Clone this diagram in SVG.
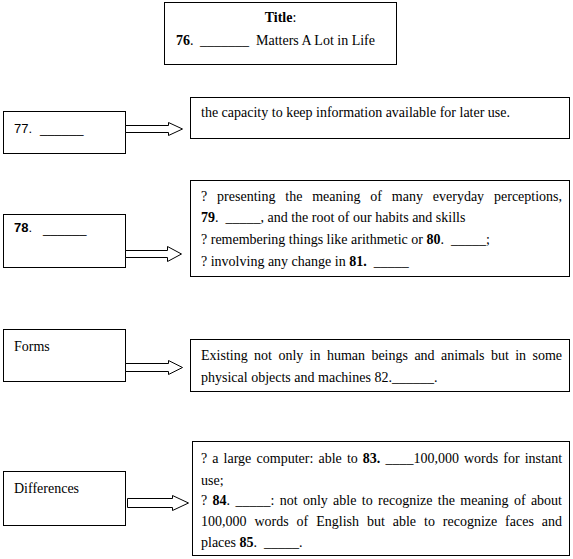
<svg xmlns="http://www.w3.org/2000/svg" width="573" height="559" viewBox="0 0 573 559">
<style>
.box{fill:#fff;stroke:#000;stroke-width:1}
.arr{fill:#fff;stroke:#000;stroke-width:1;stroke-linejoin:miter}
.s{font-family:"Liberation Serif","Times New Roman",serif;font-size:14px;fill:#000}
.a{font-family:"Liberation Sans",Arial,sans-serif;font-size:13px;fill:#000}
.b{font-weight:bold}
</style>
<rect width="573" height="559" fill="#fff"/>
<g id="title">
<rect class="box" x="164.5" y="2.5" width="232" height="62"/>
<text class="s" x="280.5" y="22" text-anchor="middle"><tspan class="b">Title</tspan>:</text>
<text class="s" y="45"><tspan x="176" class="b">76</tspan>.<tspan x="200">_______</tspan><tspan x="256">Matters A Lot in Life</tspan></text>
</g>
<g id="n77">
<rect class="box" x="3.5" y="111.5" width="122" height="42"/>
<text class="a" y="132.5"><tspan x="14">77.</tspan><tspan x="40">______</tspan></text>
</g>
<g id="r77">
<rect class="box" x="190.5" y="97.5" width="379" height="41"/>
<text class="s" x="201" y="117">the capacity to keep information available for later use.</text>
</g>
<g id="n78">
<rect class="box" x="3.5" y="214.5" width="122" height="53"/>
<text class="a" y="232"><tspan x="14" class="b">78</tspan>.<tspan x="43" dy="1">______</tspan></text>
</g>
<g id="r78">
<rect class="box" x="190.5" y="180.5" width="379" height="96"/>
<text class="s" y="201"><tspan x="201">?</tspan><tspan x="217.1">presenting</tspan><tspan x="285.3">the</tspan><tspan x="312.2">meaning</tspan><tspan x="370.3">of</tspan><tspan x="391.8">many</tspan><tspan x="432.8">everyday</tspan><tspan x="494">perceptions,</tspan></text>
<text class="s" x="201" y="222" xml:space="preserve"><tspan class="b">79</tspan>.  _____, and the root of our habits and skills</text>
<text class="s" x="201" y="244" xml:space="preserve">? remembering things like arithmetic or <tspan class="b">80</tspan>.  _____;</text>
<text class="s" x="201" y="266" xml:space="preserve">? involving any change in <tspan class="b">81.</tspan>  _____</text>
</g>
<g id="nForms">
<rect class="box" x="3.5" y="329.5" width="122" height="52"/>
<text class="s" x="14" y="351">Forms</text>
</g>
<g id="rForms">
<rect class="box" x="190.5" y="339.5" width="379" height="52"/>
<text class="s" y="360"><tspan x="201">Existing</tspan><tspan x="254.1">not</tspan><tspan x="278.4">only</tspan><tspan x="309.6">in</tspan><tspan x="326.9">human</tspan><tspan x="371.4">beings</tspan><tspan x="414.4">and</tspan><tspan x="441">animals</tspan><tspan x="490.9">but</tspan><tspan x="515.2">in</tspan><tspan x="532.5">some</tspan></text>
<text class="s" x="201" y="382">physical objects and machines 82.______.</text>
</g>
<g id="nDiff">
<rect class="box" x="3.5" y="471.5" width="122" height="54"/>
<text class="s" x="14" y="493">Differences</text>
</g>
<g id="rDiff">
<rect class="box" x="192.5" y="441.5" width="377" height="114"/>
<text class="s" y="463"><tspan x="201">?</tspan><tspan x="212.3">a</tspan><tspan x="223.6">large</tspan><tspan x="256.6">computer:</tspan><tspan x="318.5">able</tspan><tspan x="346.9">to</tspan><tspan x="362.8" class="b">83.</tspan><tspan x="385.4">____100,000</tspan><tspan x="464">words</tspan><tspan x="503.3">for</tspan><tspan x="524.7">instant</tspan></text>
<text class="s" x="201" y="485">use;</text>
<text class="s" y="505"><tspan x="201">?</tspan><tspan x="212.6" class="b">84</tspan>.<tspan x="235.4">_____:</tspan><tspan x="279.7">not</tspan><tspan x="302.9">only</tspan><tspan x="333.1">able</tspan><tspan x="361.8">to</tspan><tspan x="378.1">recognize</tspan><tspan x="437.8">the</tspan><tspan x="460.3">meaning</tspan><tspan x="513.9">of</tspan><tspan x="530.9">about</tspan></text>
<text class="s" y="526"><tspan x="201">100,000</tspan><tspan x="254.4">words</tspan><tspan x="296.6">of</tspan><tspan x="316.2">English</tspan><tspan x="366.9">but</tspan><tspan x="392.7">able</tspan><tspan x="424">to</tspan><tspan x="442.8">recognize</tspan><tspan x="505.1">faces</tspan><tspan x="541.8">and</tspan></text>
<text class="s" x="201" y="547" xml:space="preserve">places <tspan class="b">85</tspan>.  _____.</text>
</g>
<g id="connectors">
<path class="arr" d="M125.5,125.5 H168.5 V122.5 L182.5,129 L168.5,135.5 V132.5 H125.5 Z"/>
<path class="arr" d="M125.5,250.5 H167.5 V246.5 L181.5,254 L167.5,261.5 V257.5 H125.5 Z"/>
<path class="arr" d="M125.5,363.5 H168.5 V360.5 L182.5,367.5 L168.5,374.5 V371.5 H125.5 Z"/>
<path class="arr" d="M127.5,498.5 H172.5 V495.5 L188.5,503 L172.5,510.5 V507.5 H127.5 Z"/>
</g>
</svg>
